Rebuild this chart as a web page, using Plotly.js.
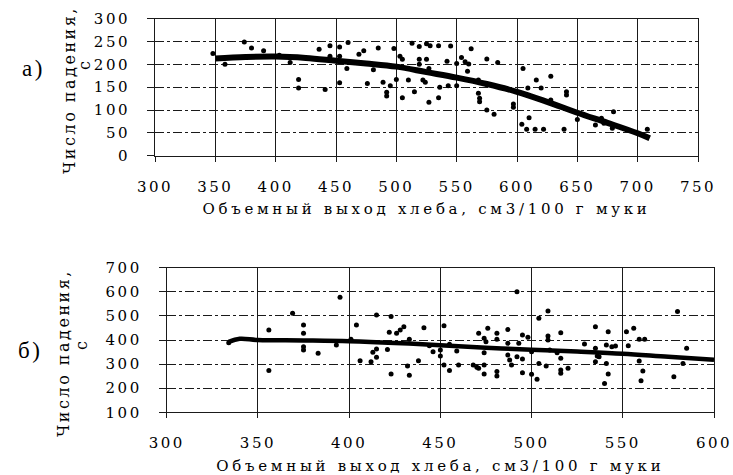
<!DOCTYPE html>
<html>
<head>
<meta charset="utf-8">
<script src="https://cdn.plot.ly/plotly-3.0.1.min.js"></script>
<style>
  html, body { margin: 0; padding: 0; background: #fff; }
  #chart { width: 733px; height: 475px; }
  .xtick text, .ytick text, .x2tick text, .y2tick text { letter-spacing: 2.5px; }
  .g-xtitle text, .g-x2title text { letter-spacing: 3.7px; }
  .annotation-text { letter-spacing: 2.5px; }
</style>
</head>
<body>
<div id="chart"></div>
<script>
// ---- Chart a) ----
const aPointsX = [348,358,374,380,390,403,412,419,419,441,436,445,453,460,445,453,459,453,469,473,485,481,476,489,495,492,492,500,498,513,519,525,528,535,545,562,503,505,519,525,519,542,550,554,557,560,575,584,559,527,510,522,524,515,536,543,550,505,527,535,568,575,568,569,569,575,581,605,616,609,620,597,597,610,604,608,615,622,639,628,641,641,628,650,665,670,680,679,672,708];
const aPointsY = [224,200,249,236,230,220,204,167,148,145,233,241,238,248,218,218,191,160,222,230,236,188,158,161,153,139,131,167,235,246,239,245,241,241,240,234,218,211,211,211,200,207,202,215,206,201,212,204,185,191,166,166,161,140,150,153,153,127,117,127,166,156,137,126,118,100,91,191,166,148,148,113,106,83,69,58,58,58,58,174,140,133,122,79,67,82,96,60,71,58];
const aTrendX = [350,375,400,425,450,475,500,525,550,575,600,625,650,675,700,710];
const aTrendY = [213,216,217,214,208,202,195,183,171,157,140,118,94,72,49,38];
const aXTicks = [300,350,400,450,500,550,600,650,700,750];
const aYTicks = [0,50,100,150,200,250,300];

// ---- Chart б) ----
const bPointsX = [334,356,356,369,375,375,375,375,383,395,393,401,404,406,415,423,422,426,428,430,441,452,412,415,415,421,423,433,432,438,433,444,446,450,450,455,459,452,455,460,413,492,509,504,471,476,481,487,474,475,481,487,493,495,498,509,509,516,529,535,474,487,488,492,495,500,510,514,516,536,468,470,471,474,474,481,481,489,495,500,503,508,504,516,520,516,580,542,552,556,559,562,585,541,544,546,535,537,553,535,541,559,583,542,540,561,560,578];
const bPointsY = [389,441,273,511,462,428,372,359,345,577,379,403,462,314,504,497,432,428,442,455,451,459,310,328,363,361,259,254,292,314,403,376,351,334,359,382,354,296,273,296,349,600,520,490,428,449,428,444,407,393,403,386,386,421,411,417,400,430,383,455,347,338,317,331,321,351,359,347,324,334,296,287,283,296,259,269,251,296,264,258,237,292,303,276,283,262,518,434,434,449,403,403,366,379,372,375,366,331,376,310,303,313,303,259,220,271,231,248];
const bTrendX = [334,340,350,375,400,425,450,475,500,525,550,575,600];
const bTrendY = [392,405,400,398,395,388,378,368,360,352,343,330,318];
const bXTicks = [300,350,400,450,500,550,600];
const bYTicks = [100,200,300,400,500,600,700];

const xTitle = 'Объемный выход хлеба, см3/100 г муки';
const yTitleMain = 'Число падения,';
const yTitleUnit = 'с';
const panelLabels = ['а)', 'б)'];

const serif = 'DejaVu Serif';
const ink = '#000';
const gridInk = '#1a1a1a';

const traces = [
  {x: aPointsX, y: aPointsY, type: 'scatter', mode: 'markers', xaxis: 'x', yaxis: 'y',
   marker: {color: ink, size: 5}, showlegend: false, hoverinfo: 'skip'},
  {x: aTrendX, y: aTrendY, type: 'scatter', mode: 'lines', xaxis: 'x', yaxis: 'y',
   line: {color: ink, width: 6, shape: 'spline'}, showlegend: false, hoverinfo: 'skip'},
  {x: bPointsX, y: bPointsY, type: 'scatter', mode: 'markers', xaxis: 'x2', yaxis: 'y2',
   marker: {color: ink, size: 5}, showlegend: false, hoverinfo: 'skip'},
  {x: bTrendX, y: bTrendY, type: 'scatter', mode: 'lines', xaxis: 'x2', yaxis: 'y2',
   line: {color: ink, width: 4.5, shape: 'spline'}, showlegend: false, hoverinfo: 'skip'}
];

function xAxis(domain, ticks, anchor, standoff) {
  return {
    domain: domain, anchor: anchor, range: [ticks[0], ticks[ticks.length - 1]],
    tickvals: ticks, ticktext: ticks.map(String),
    showgrid: true, gridcolor: gridInk, gridwidth: 1, griddash: 'solid',
    zeroline: false, showline: true, mirror: true, linecolor: gridInk, linewidth: 1,
    ticks: 'outside', ticklen: 5, tickcolor: gridInk, tickwidth: 1,
    ticklabelstandoff: 12,
    tickfont: {family: serif, size: 15, color: ink},
    title: {text: xTitle, font: {family: serif, size: 15, color: ink}, standoff: standoff},
    fixedrange: true
  };
}
function yAxis(domain, ticks, anchor) {
  return {
    domain: domain, anchor: anchor, range: [ticks[0], ticks[ticks.length - 1]],
    tickvals: ticks, ticktext: ticks.map(String),
    showgrid: true, gridcolor: gridInk, gridwidth: 1, griddash: 'dashdot',
    zeroline: false, showline: true, mirror: true, linecolor: gridInk, linewidth: 1,
    ticks: 'outside', ticklen: 7, tickcolor: gridInk, tickwidth: 1,
    ticklabelstandoff: 14,
    tickfont: {family: serif, size: 15, color: ink},
    fixedrange: true
  };
}

function rotText(text, px, py) {
  return {text: text, xref: 'paper', yref: 'paper', x: px / 733, y: 1 - py / 475,
          showarrow: false, textangle: -90, xanchor: 'center', yanchor: 'middle',
          font: {family: serif, size: 16, color: ink}};
}

const layout = {
  width: 733, height: 475,
  margin: {l: 0, r: 0, t: 0, b: 0},
  paper_bgcolor: '#fff', plot_bgcolor: '#fff',
  xaxis: xAxis([155/733, 698/733], aXTicks, 'y', 8),
  yaxis: yAxis([1 - 155.7/475, 1 - 18.7/475], aYTicks, 'x'),
  xaxis2: xAxis([166.7/733, 714/733], bXTicks, 'y2', 10),
  yaxis2: yAxis([1 - 412.3/475, 1 - 267.7/475], bYTicks, 'x2'),
  annotations: [
    {text: panelLabels[0], xref: 'paper', yref: 'paper', x: 33/733, y: 1 - 68/475,
     showarrow: false, xanchor: 'center', yanchor: 'middle',
     font: {family: 'Liberation Serif', size: 23, color: ink}},
    {text: panelLabels[1], xref: 'paper', yref: 'paper', x: 30/733, y: 1 - 350/475,
     showarrow: false, xanchor: 'center', yanchor: 'middle',
     font: {family: 'Liberation Serif', size: 23, color: ink}},
    rotText(yTitleMain, 69, 90),
    rotText(yTitleUnit, 85, 65),
    rotText(yTitleMain, 63, 353),
    rotText(yTitleUnit, 81, 345)
  ]
};

Plotly.newPlot('chart', traces, layout, {displayModeBar: false, staticPlot: true});
</script>
</body>
</html>
